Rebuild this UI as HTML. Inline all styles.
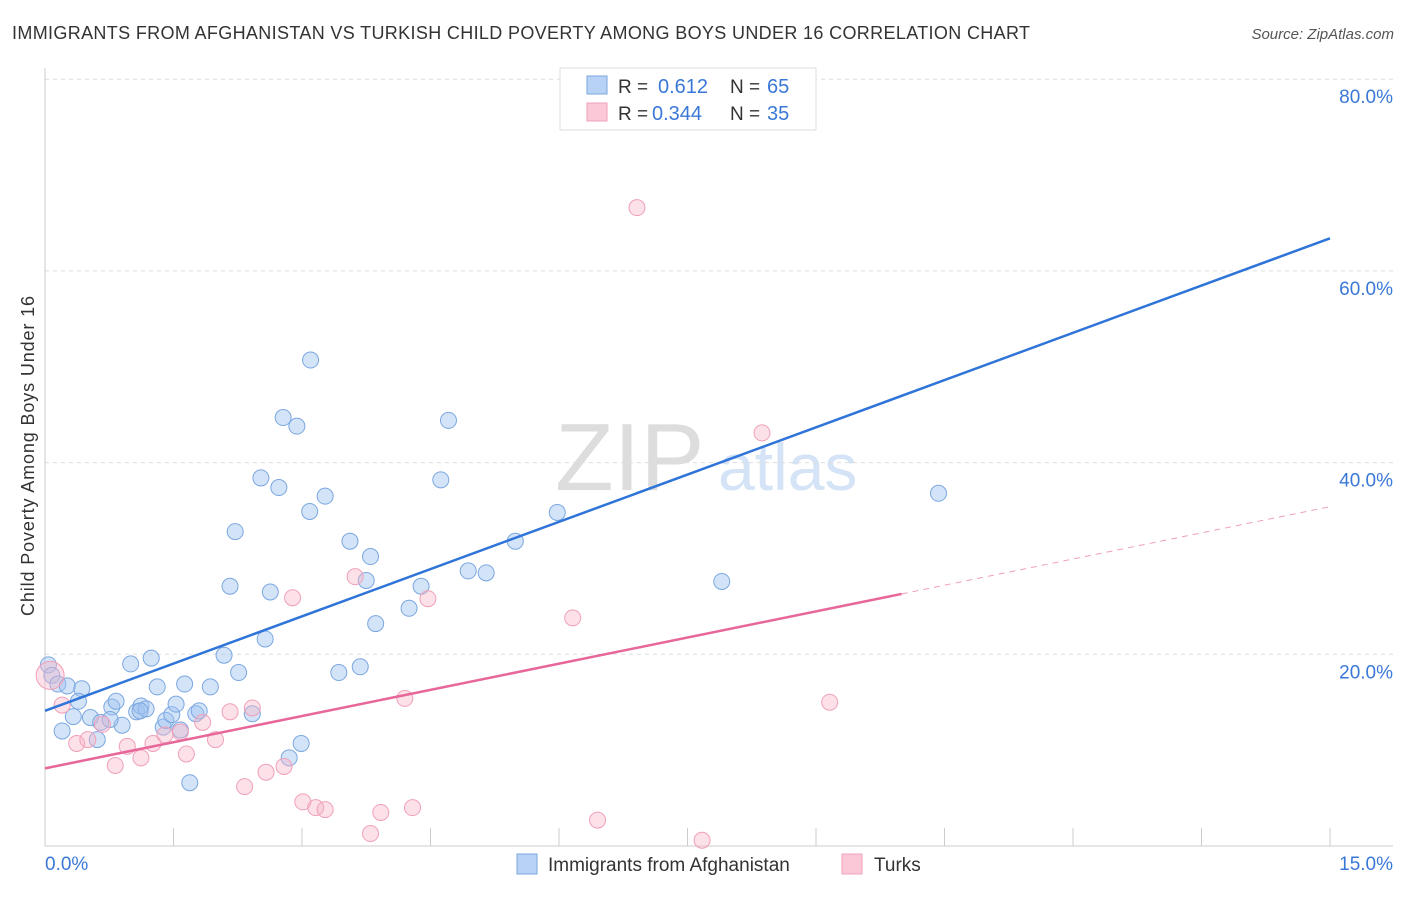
<!DOCTYPE html>
<html><head><meta charset="utf-8"><style>
body{margin:0;background:#fff;font-family:"Liberation Sans",sans-serif}
svg text{font-family:"Liberation Sans",sans-serif}
</style></head><body>
<svg width="1406" height="892" id="c">
<text x="12" y="39" font-size="18" fill="#333" textLength="1018">IMMIGRANTS FROM AFGHANISTAN VS TURKISH CHILD POVERTY AMONG BOYS UNDER 16 CORRELATION CHART</text>
<text x="1394" y="39" font-size="15" fill="#555" font-style="italic" text-anchor="end">Source: ZipAtlas.com</text>
<text x="555" y="490" font-size="96" fill="#ddd" font-family="Liberation Serif">ZIP</text>
<text x="718" y="490" font-size="66" fill="#d4e3f6">atlas</text>
<text transform="translate(34,456) rotate(-90)" font-size="18" fill="#333" text-anchor="middle" textLength="320">Child Poverty Among Boys Under 16</text>
<g id="grid"></g><g id="marks"></g>
<g>
<rect x="560" y="68" width="256" height="62" fill="#fff" stroke="#ddd"/>
<rect x="587" y="76" width="20" height="18" fill="#b8d2f5" stroke="#7aa7e0"/>
<rect x="587" y="103" width="20" height="18" fill="#fac8d6" stroke="#f0a0b8"/>
<text x="618" y="93" font-size="19" fill="#333">R =</text><text x="658" y="93" font-size="20" fill="#3a78d8">0.612</text>
<text x="730" y="93" font-size="19" fill="#333">N =</text><text x="767" y="93" font-size="20" fill="#3a78d8">65</text>
<text x="618" y="120" font-size="19" fill="#333">R =</text><text x="652" y="120" font-size="20" fill="#3a78d8">0.344</text>
<text x="730" y="120" font-size="19" fill="#333">N =</text><text x="767" y="120" font-size="20" fill="#3a78d8">35</text>
</g>
<g>
<rect x="517" y="854" width="20" height="20" fill="#b8d2f5" stroke="#7aa7e0"/>
<text x="548" y="871" font-size="19" fill="#333">Immigrants from Afghanistan</text>
<rect x="842" y="854" width="20" height="20" fill="#fac8d6" stroke="#f0a0b8"/>
<text x="874" y="871" font-size="19" fill="#333">Turks</text>
</g>
</svg>
<script>
const blueX=[0.04,0.08,0.15,0.26,0.43,0.20,0.33,0.39,0.53,0.61,0.65,0.78,0.83,0.90,1.00,1.07,1.12,1.18,1.24,1.31,1.38,1.41,1.48,1.53,1.58,1.63,1.69,1.76,1.80,1.93,2.09,2.16,2.22,2.26,2.42,2.52,2.57,2.63,2.73,2.78,2.85,2.94,2.99,3.09,3.10,3.27,3.43,3.56,3.68,3.75,3.80,3.86,4.25,4.39,4.62,4.71,4.94,5.15,5.49,5.98,7.90,10.43,1.11,0.76];
const blueY=[18.9,17.8,16.9,16.7,16.4,12.0,13.5,15.1,13.4,11.1,12.9,14.5,15.1,12.6,19.0,14.0,14.6,14.3,19.6,16.6,12.4,13.1,13.7,14.8,12.1,16.9,6.6,13.8,14.1,16.6,19.9,27.1,32.8,18.1,13.8,38.4,21.6,26.5,37.4,44.7,9.2,43.8,10.7,34.9,50.7,36.5,18.1,31.8,18.7,27.7,30.2,23.2,24.8,27.1,38.2,44.4,28.7,28.5,31.8,34.8,27.6,36.8,14.1,13.2];
const pinkX=[0.06,0.20,0.37,0.50,0.67,0.82,0.96,1.12,1.26,1.40,1.58,1.65,1.84,1.99,2.16,2.33,2.42,2.58,2.79,2.89,3.01,3.16,3.27,3.62,3.80,3.92,4.20,4.29,4.47,6.16,6.45,6.91,7.67,8.37,9.16];
const pinkY=[17.8,14.7,10.7,11.1,12.7,8.4,10.4,9.2,10.7,11.6,11.9,9.6,12.9,11.1,14.0,6.2,14.4,7.7,8.3,25.9,4.6,4.0,3.8,28.1,1.3,3.5,15.4,4.0,25.8,23.8,2.7,66.6,0.6,43.1,15.0];
const xTicks=[0,1.5,3,4.5,6,7.5,9,10.5,12,13.5,15];
const yTicks=[20,40,60,80];
const yTickLabels=["20.0%","40.0%","60.0%","80.0%"];
const blueTrend=[14.1,63.4];
const pinkTrend=[8.1,35.4];
const pinkSolidEnd=10.0;
const NS="http://www.w3.org/2000/svg";
const sx=v=>45+v*(1285/15), sy=v=>846-v*9.585;
const grid=document.getElementById('grid'), marks=document.getElementById('marks');
function mk(tag,attrs,parent){const e=document.createElementNS(NS,tag);for(const k in attrs)e.setAttribute(k,attrs[k]);parent.appendChild(e);return e;}
yTicks.forEach((t,i)=>{
 const l=mk('line',{x1:45,x2:1393,y1:sy(t),y2:sy(t),stroke:'#ddd','stroke-dasharray':'4,4'},grid);
 
 
 const tx=mk('text',{x:1393,y:sy(t)+24,'font-size':19,fill:'#3a78d8','text-anchor':'end'},grid);
 tx.textContent=yTickLabels[i];
 
 
});
const ax=mk('line',{x1:45,x2:45,y1:68,y2:846,stroke:'#ccc'},grid);


const bx=mk('line',{x1:45,x2:1393,y1:846,y2:846,stroke:'#ccc'},grid);


xTicks.forEach(t=>{
 const l=mk('line',{x1:sx(t),x2:sx(t),y1:828,y2:846,stroke:'#ccc'},grid);
 
 
});
const xl=mk('text',{x:45,y:870,'font-size':19,fill:'#3a78d8'},grid);xl.textContent='0.0%';


const xr=mk('text',{x:1393,y:870,'font-size':19,fill:'#3a78d8','text-anchor':'end'},grid);xr.textContent='15.0%';


blueX.forEach((x,i)=>{
 const c=mk('circle',{cx:sx(x),cy:sy(blueY[i]),r:8,fill:'rgba(160,196,240,0.45)',stroke:'#7aa7e0','stroke-width':1},marks);
 
 
});
pinkX.forEach((x,i)=>{
 const c=mk('circle',{cx:sx(x),cy:sy(pinkY[i]),r:i===0?14:8,fill:'rgba(248,180,200,0.4)',stroke:'#f0a0b8','stroke-width':1},marks);
 
 
});
const bl=mk('line',{x1:sx(0),y1:sy(blueTrend[0]),x2:sx(15),y2:sy(blueTrend[1]),stroke:'#2f74d8','stroke-width':2.5},marks);


const pm=pinkTrend[0]+(pinkTrend[1]-pinkTrend[0])*pinkSolidEnd/15;
const pl=mk('line',{x1:sx(0),y1:sy(pinkTrend[0]),x2:sx(pinkSolidEnd),y2:sy(pm),stroke:'#e8679a','stroke-width':2.5},marks);


const pd=mk('line',{x1:sx(pinkSolidEnd),y1:sy(pm),x2:sx(15),y2:sy(pinkTrend[1]),stroke:'#f0a0b8','stroke-width':1,'stroke-dasharray':'6,5'},marks);


</script>
</body></html>
